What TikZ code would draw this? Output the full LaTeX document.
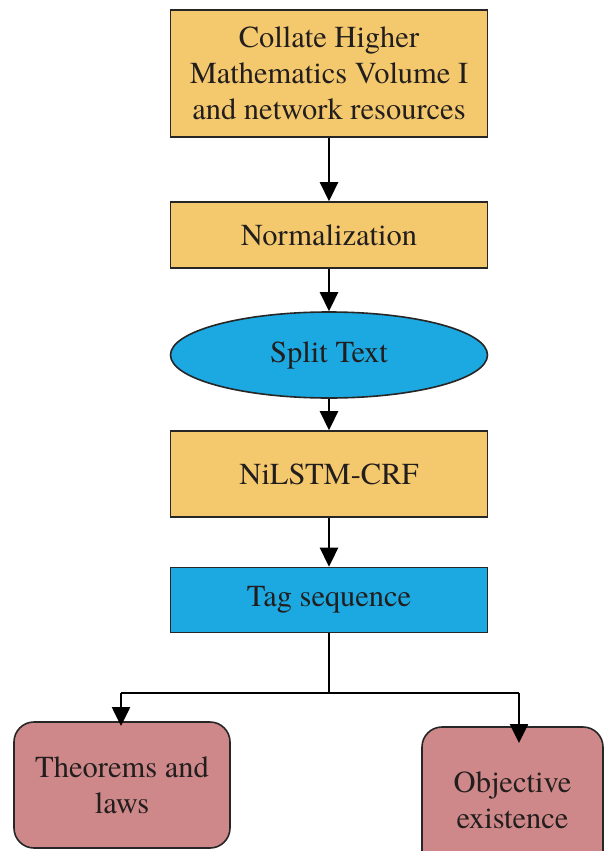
\documentclass[tikz,border=0pt]{standalone}
\usepackage{fontspec}
\newfontfamily\timesf{TeX Gyre Termes}
\usetikzlibrary{shapes.geometric,arrows.meta}
\definecolor{boxyellow}{RGB}{244,201,110}
\definecolor{boxblue}{RGB}{28,168,224}
\definecolor{boxpink}{RGB}{206,136,137}
\definecolor{txt}{RGB}{35,30,30}
\begin{document}
\begin{tikzpicture}[x=1pt,y=-1pt,
  every node/.style={font=\timesf\fontsize{30.5}{36}\selectfont, text=txt, align=center, inner sep=0pt},
  rbox/.style={draw=black!85, line width=1.6pt, rectangle, minimum width=317pt},
  ybox/.style={rbox, fill=boxyellow},
  bbox/.style={rbox, fill=boxblue},
  ell/.style={draw=black!85, line width=1.6pt, ellipse, fill=boxblue, minimum width=317pt, minimum height=86pt},
  pbox/.style={draw=black!85, line width=1.6pt, rectangle, rounded corners=20pt, fill=boxpink},
  conn/.style={line width=2.6pt, -{Triangle[width=18pt,length=19pt]}},
  plain/.style={line width=2.6pt}]
\clip (0,0) rectangle (606,851);
\useasboundingbox (0,0) rectangle (606,851);
\fill[white] (0,0) rectangle (606,851);
\node[ybox, minimum height=127pt] (b1) at (329,73.5) {Collate Higher\\Mathematics Volume I\\and network resources};
\node[ybox, minimum height=66pt] (b2) at (329,235) {Normalization};
\node[ell] (e) at (329,355) {Split Text};
\node[ybox, minimum height=86pt] (b3) at (329,474) {NiLSTM-CRF};
\node[bbox, minimum height=65pt] (b4) at (329,600) {Tag sequence};
\node[pbox, minimum width=216pt, minimum height=126pt] (l) at (122,785) {Theorems and\\laws};
\node[pbox, minimum width=181pt, minimum height=146pt] (r) at (512.5,800) {Objective\\existence};
\coordinate (j) at (329,693);
\coordinate (jl) at (121,693);
\coordinate (jr) at (519,693);
\coordinate (tl) at (121,726);
\coordinate (tr) at (519,743);
\draw[conn] (b1) -- (b2);
\draw[conn] (b2) -- (e);
\draw[conn] (e) -- (b3);
\draw[conn] (b3) -- (b4);
\draw[plain] (b4.south) -- (j);
\draw[plain] (jl) -- (jr);
\draw[conn] (jl) -- (tl);
\draw[conn] (jr) -- (tr);
\end{tikzpicture}
\end{document}
